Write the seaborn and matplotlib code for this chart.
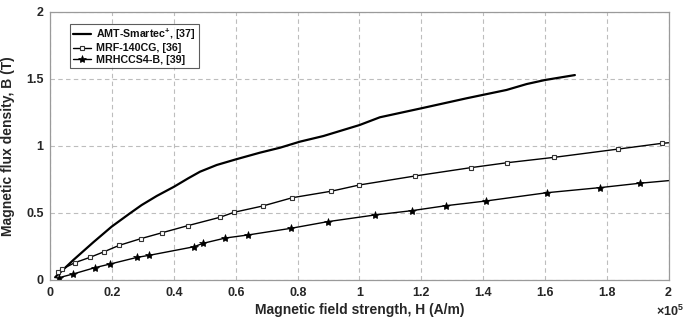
import matplotlib
matplotlib.use("Agg")
import matplotlib.pyplot as plt
import seaborn as sns
import pandas as pd
from matplotlib.ticker import FuncFormatter

# H in units of 1e5 A/m, B in T
amt_h = [0.015, 0.074, 0.139, 0.198, 0.257, 0.295, 0.344, 0.400, 0.446, 0.484, 0.538, 0.600, 0.678, 0.743, 0.807, 0.883, 1.000, 1.066, 1.200, 1.347, 1.476, 1.541, 1.600, 1.697]
amt_b = [0.018, 0.147, 0.280, 0.396, 0.495, 0.557, 0.625, 0.694, 0.757, 0.806, 0.856, 0.898, 0.948, 0.985, 1.030, 1.072, 1.154, 1.212, 1.279, 1.354, 1.416, 1.460, 1.490, 1.527]

mrf_h = [0.025, 0.036, 0.079, 0.128, 0.174, 0.222, 0.292, 0.362, 0.444, 0.549, 0.594, 0.687, 0.783, 0.908, 1.000, 1.180, 1.360, 1.478, 1.630, 1.838, 1.980, 2.100]
mrf_b = [0.060, 0.077, 0.127, 0.167, 0.209, 0.256, 0.306, 0.351, 0.403, 0.466, 0.503, 0.550, 0.612, 0.660, 0.707, 0.774, 0.836, 0.873, 0.913, 0.975, 1.018, 1.040]

mrh_h = [0.0275, 0.074, 0.144, 0.193, 0.281, 0.320, 0.465, 0.493, 0.566, 0.640, 0.777, 0.897, 1.050, 1.169, 1.279, 1.408, 1.606, 1.778, 1.908, 2.100]
mrh_b = [0.015, 0.043, 0.090, 0.117, 0.167, 0.182, 0.246, 0.271, 0.311, 0.334, 0.383, 0.433, 0.483, 0.515, 0.552, 0.587, 0.649, 0.687, 0.720, 0.760]

labels = [r"AMT-Smartec$^{\mathbf{+}}$, [37]", "MRF-140CG, [36]", "MRHCCS4-B, [39]"]
x_ticks = [0, 0.2, 0.4, 0.6, 0.8, 1.0, 1.2, 1.4, 1.6, 1.8, 2.0]
y_ticks = [0, 0.5, 1, 1.5, 2]

sns.set_theme(style="white")
plt.rcParams['font.family'] = ['Liberation Sans', 'DejaVu Sans']
plt.rcParams['mathtext.fontset'] = 'custom'
plt.rcParams['mathtext.bf'] = 'Liberation Sans:bold'
plt.rcParams['mathtext.rm'] = 'Liberation Sans:bold'

fig = plt.figure(figsize=(6.86, 3.22), dpi=100)
ax = fig.add_axes([0.0736, 0.1314, 0.9009, 0.8323])

d1 = pd.DataFrame({"H": [h * 1e5 for h in amt_h], "B": amt_b})
d2 = pd.DataFrame({"H": [h * 1e5 for h in mrf_h], "B": mrf_b})
d3 = pd.DataFrame({"H": [h * 1e5 for h in mrh_h], "B": mrh_b})

sns.lineplot(data=d1, x="H", y="B", ax=ax, color="black", lw=1.6, label=labels[0], sort=False)
sns.lineplot(data=d2, x="H", y="B", ax=ax, color="black", lw=1.0, marker="s", markersize=3.2,
             markerfacecolor="white", markeredgecolor="#333333", markeredgewidth=0.8, label=labels[1], sort=False)
sns.lineplot(data=d3, x="H", y="B", ax=ax, color="black", lw=1.0, marker="*", markersize=6,
             markerfacecolor="black", markeredgecolor="black", markeredgewidth=0.5, label=labels[2], sort=False)

ax.set_xlim(0, 2e5)
ax.set_ylim(0, 2)
ax.set_xticks([t * 1e5 for t in x_ticks])
ax.set_yticks(y_ticks)
ax.xaxis.set_major_formatter(FuncFormatter(lambda v, p: "%g" % round(v / 1e5, 2)))
ax.yaxis.set_major_formatter(FuncFormatter(lambda v, p: "%g" % v))
ax.grid(True, linestyle=(0, (4, 3)), color="#bdbdbd", lw=0.8)
for s in ax.spines.values():
    s.set_color("#9a9a9a")
    s.set_linewidth(0.9)
ax.tick_params(axis="both", labelsize=9, colors="#262626", length=0, pad=5)
for lab in ax.get_xticklabels() + ax.get_yticklabels():
    lab.set_fontweight("bold")

ax.set_xlabel("Magnetic field strength, H (A/m)", fontsize=10, fontweight="bold", color="#262626", labelpad=3)
ax.set_ylabel("Magnetic flux density, B (T)", fontsize=10, fontweight="bold", color="#262626", labelpad=8)
fig.text(684 / 686, 1 - 311 / 322, r"$\times$10$^{5}$", ha="right", va="center",
         fontsize=9, fontweight="bold", color="#262626")

leg = ax.legend(loc="upper left", bbox_to_anchor=(0.032, 0.955), frameon=True, fancybox=False,
                edgecolor="#333333", fontsize=7.7, handlelength=1.7, borderpad=0.25, labelspacing=0.15,
                handletextpad=0.5, borderaxespad=0)
leg.get_frame().set_linewidth(0.8)
for t in leg.get_texts():
    t.set_fontweight("bold")
    t.set_color("#111111")

fig.savefig("out.png", dpi=100)
